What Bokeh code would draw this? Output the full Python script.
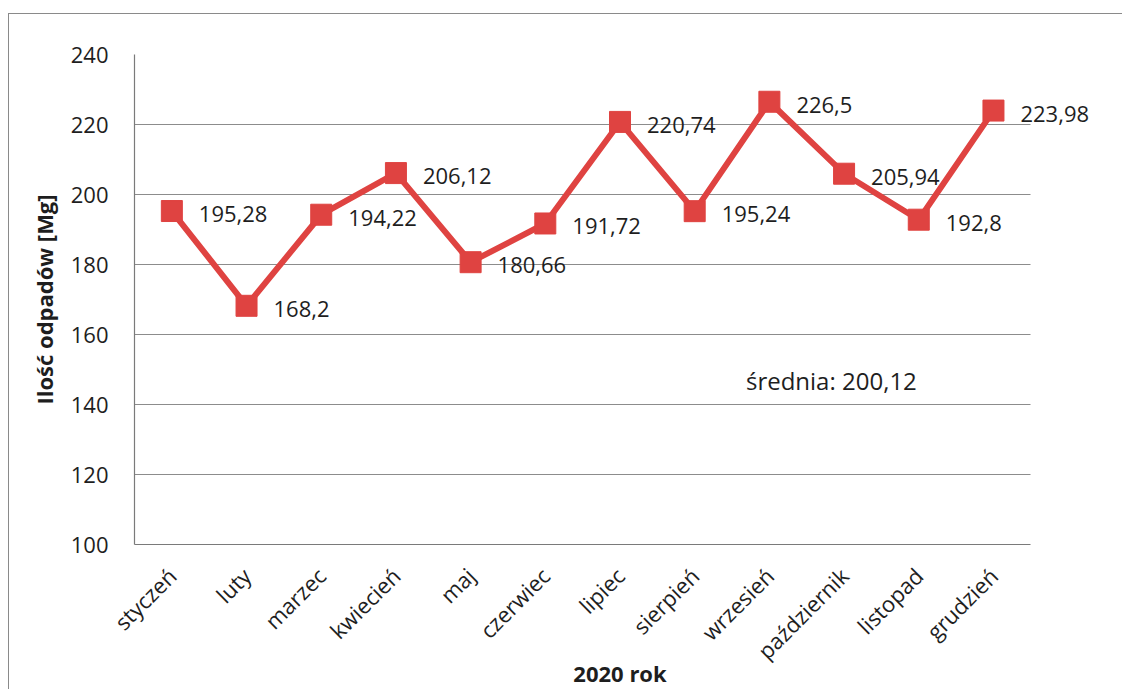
import math
from bokeh.plotting import figure
from bokeh.models import Range1d, ColumnDataSource, Label, LabelSet, SingleIntervalTicker, FixedTicker
from bokeh.core.properties import value
from bokeh.embed import file_html
from bokeh.resources import INLINE

months = ["styczeń", "luty", "marzec", "kwiecień", "maj", "czerwiec", "lipiec",
          "sierpień", "wrzesień", "październik", "listopad", "grudzień"]
waste = [195.28, 168.2, 194.22, 206.12, 180.66, 191.72, 220.74,
         195.24, 226.5, 205.94, 192.8, 223.98]
labels = [f"{v:g}".replace(".", ",") for v in waste]
avg = sum(waste) / len(waste)
avg_text = "średnia: " + f"{avg:.2f}".replace(".", ",")

FONT = "Open Sans"
RED = "#DF4341"
TXT = "#1e1e1e"

n = len(months)
xpos = [i + 0.5 for i in range(n)]
src = ColumnDataSource(dict(x=xpos, y=waste, lab=labels))

p = figure(width=1114, height=676, x_range=Range1d(0, n + 1), y_range=Range1d(100, 240),
           output_backend="svg", toolbar_location=None,
           min_border_left=125, min_border_right=18, min_border_top=40, min_border_bottom=145)
p.outline_line_color = None
p.styles = {"box-shadow": "-1px -1px 0 0 #8a8a8a",
            "margin-top": "14px", "margin-left": "9px"}

p.line("x", "y", source=src, line_color=RED, line_width=6)
p.scatter("x", "y", source=src, marker="square", size=21, fill_color=RED, line_color=RED)
p.add_layout(LabelSet(x="x", y="y", text="lab", source=src, x_offset=27, y_offset=-3,
                      text_align="left", text_baseline="middle", text_font=value(FONT),
                      text_font_size="22px", text_color=TXT))

p.add_layout(Label(x=9.33, y=147.0, text=avg_text, text_align="center",
                   text_baseline="middle", text_font=FONT, text_font_size="24px",
                   text_color=TXT))

p.xgrid.grid_line_color = None
p.ygrid.grid_line_color = "#8c8c8c"
p.ygrid.grid_line_width = 1.2
p.ygrid.cross_bounds = (0, n)
p.yaxis.ticker = SingleIntervalTicker(interval=20)
p.xaxis.ticker = FixedTicker(ticks=xpos)
p.xaxis.major_label_overrides = {x: m for x, m in zip(xpos, months)}
p.xaxis.bounds = (0, n)

for ax in (p.xaxis[0], p.yaxis[0]):
    ax.major_tick_line_color = None
    ax.minor_tick_line_color = None
    ax.major_tick_out = 0
    ax.major_tick_in = 0
    ax.minor_tick_out = 0
    ax.axis_line_color = "#7a7a7a"
    ax.axis_line_width = 1.2
    ax.major_label_text_font = FONT
    ax.major_label_text_font_size = "22px"
    ax.major_label_text_color = TXT
    ax.axis_label_text_font = FONT
    ax.axis_label_text_font_size = "22px"
    ax.axis_label_text_font_style = "bold"
    ax.axis_label_text_color = TXT

p.yaxis.axis_label = "Ilość odpadów [Mg]"
p.yaxis.major_label_standoff = 26
p.yaxis.axis_label_standoff = 9
p.xaxis.axis_label = "2020 rok"
p.xaxis.major_label_orientation = math.pi / 4
p.xaxis.major_label_standoff = 27
p.xaxis.axis_label_standoff = -21

open("out.html", "w").write(file_html(p, INLINE))
